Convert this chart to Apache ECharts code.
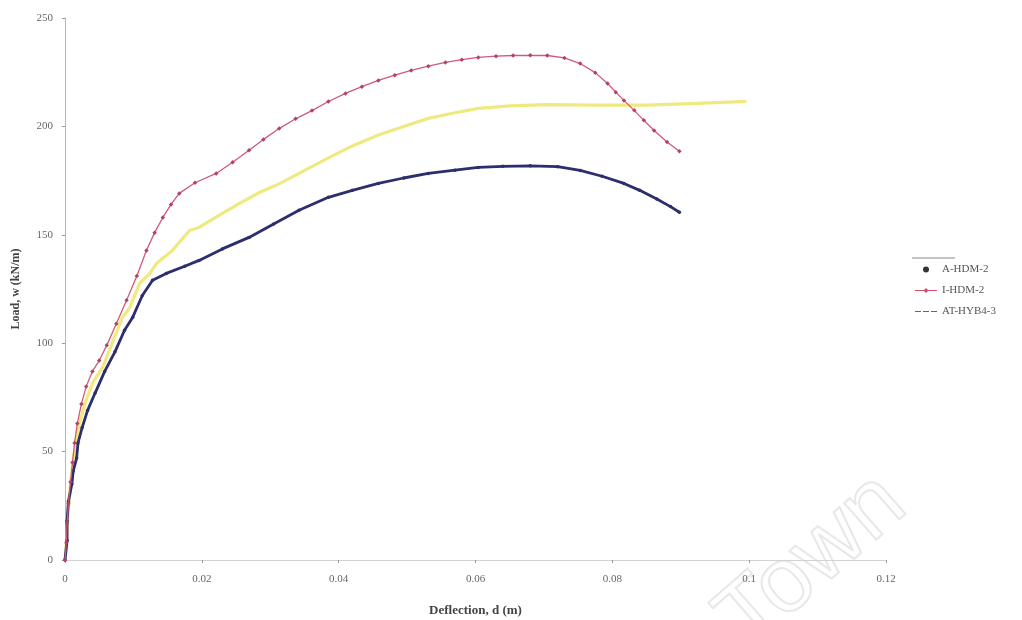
<!DOCTYPE html>
<html>
<head>
<meta charset="utf-8">
<script src="https://cdn.jsdelivr.net/npm/echarts@6/dist/echarts.min.js"></script>
<style>
  html, body { margin: 0; padding: 0; background: #fff; }
  #chart { width: 1022px; height: 620px; }
</style>
</head>
<body>
<div id="chart"></div>
<script>
// Load–deflection curves for three slab specimens
const seriesNames = ['A-HDM-2', 'I-HDM-2', 'AT-HYB4-3'];
const xTicks = [0, 0.02, 0.04, 0.06, 0.08, 0.1, 0.12];
const yTicks = [0, 50, 100, 150, 200, 250];

// A-HDM-2: [deflection (m), load (kN/m)]
const aHdm2 = [
  [0, 0], [0.0003, 9], [0.0003, 18], [0.0005, 27], [0.0010, 35], [0.0012, 41],
  [0.0017, 47], [0.0019, 54], [0.0025, 61], [0.0033, 69], [0.0044, 77],
  [0.0058, 87], [0.0073, 96], [0.0087, 106], [0.0099, 112], [0.0113, 122],
  [0.0128, 129], [0.0148, 132.2], [0.0175, 135.5], [0.0196, 138.2],
  [0.0230, 143.5], [0.0269, 148.8], [0.0305, 155], [0.0342, 161.3],
  [0.0385, 167.3], [0.0420, 170.5], [0.0458, 173.7], [0.0495, 176.2],
  [0.0531, 178.3], [0.0570, 179.8], [0.0604, 181.1], [0.0640, 181.6],
  [0.0680, 181.8], [0.0720, 181.4], [0.0753, 179.7], [0.0785, 177.0],
  [0.0817, 173.7], [0.0840, 170.5], [0.0865, 166.5], [0.0885, 163],
  [0.0898, 160.4]
];

// I-HDM-2
const iHdm2 = [
  [0, 0], [0.0002, 8], [0.0003, 17], [0.0005, 26], [0.0008, 36], [0.0011, 45],
  [0.0014, 54], [0.0018, 63], [0.0024, 72], [0.0031, 80], [0.0040, 87],
  [0.0050, 92], [0.0061, 99], [0.0075, 109], [0.0090, 119.8], [0.0105, 131],
  [0.0119, 142.8], [0.0131, 151], [0.0143, 158], [0.0155, 164], [0.0167, 169.1],
  [0.0190, 174], [0.0221, 178.3], [0.0245, 183.5], [0.0269, 189], [0.0290, 194],
  [0.0313, 199], [0.0337, 203.5], [0.0361, 207.3], [0.0385, 211.5],
  [0.0410, 215.2], [0.0434, 218.3], [0.0458, 221.2], [0.0482, 223.6],
  [0.0506, 225.8], [0.0531, 227.8], [0.0556, 229.5], [0.0580, 230.8],
  [0.0604, 231.8], [0.0630, 232.4], [0.0655, 232.7], [0.0680, 232.8],
  [0.0705, 232.7], [0.0730, 231.6], [0.0753, 229.0], [0.0775, 224.8],
  [0.0793, 219.8], [0.0805, 215.8], [0.0817, 212.0], [0.0832, 207.4],
  [0.0846, 202.8], [0.0861, 198.1], [0.0880, 192.8], [0.0898, 188.5]
];

// AT-HYB4-3
const atHyb43 = [
  [0, 0], [0.0003, 12], [0.0005, 24], [0.0008, 35], [0.0012, 46], [0.0016, 55],
  [0.0022, 64], [0.0030, 73], [0.0041, 82], [0.0055, 88.9], [0.0065, 96.8],
  [0.0084, 112], [0.0095, 116.6], [0.0109, 127.6], [0.0124, 132.2],
  [0.0134, 136.9], [0.0157, 142.8], [0.0182, 152], [0.0196, 153.4],
  [0.0225, 159], [0.0255, 164.5], [0.0284, 169.5], [0.0313, 173.5],
  [0.0342, 178.3], [0.0385, 185.5], [0.0420, 191], [0.0458, 196],
  [0.0495, 200], [0.0531, 203.7], [0.0570, 206.3], [0.0604, 208.3],
  [0.0650, 209.5], [0.0705, 210], [0.0778, 209.8], [0.0851, 209.8],
  [0.0924, 210.6], [0.0996, 211.5]
];

const serif = 'Liberation Serif';
const chart = echarts.init(document.getElementById('chart'), null, { renderer: 'canvas' });

chart.setOption({
  backgroundColor: '#ffffff',
  animation: false,
  grid: { left: 65, right: 136, top: 18, bottom: 60, containLabel: false, outerBoundsMode: 'none' },
  xAxis: {
    type: 'value',
    min: xTicks[0], max: xTicks[xTicks.length - 1], interval: 0.02,
    name: 'Deflection, d (m)',
    nameLocation: 'middle', nameGap: 44,
    nameTextStyle: { fontFamily: serif, fontSize: 13, fontWeight: 'bold', color: '#444' },
    axisLine: { onZero: false, lineStyle: { color: '#d2d2d2', width: 1 } },
    axisTick: { show: true, inside: false, length: 3, lineStyle: { color: '#999' } },
    axisLabel: { fontFamily: serif, fontSize: 11, color: '#666', margin: 14 },
    splitLine: { show: false }
  },
  yAxis: {
    type: 'value',
    min: yTicks[0], max: yTicks[yTicks.length - 1], interval: 50,
    name: 'Load, w (kN/m)',
    nameLocation: 'middle', nameGap: 43,
    nameTextStyle: { fontFamily: serif, fontSize: 12, fontWeight: 'bold', color: '#444' },
    axisLine: { show: true, lineStyle: { color: '#b8b8b8', width: 1 } },
    axisTick: { show: true, inside: false, length: 3, lineStyle: { color: '#999' } },
    axisLabel: { fontFamily: serif, fontSize: 11, color: '#666', margin: 12 },
    splitLine: { show: false }
  },
  legend: {
    orient: 'vertical',
    left: 910, top: 259,
    itemWidth: 22, itemHeight: 6, itemGap: 10,
    symbolKeepAspect: true,
    textStyle: { fontFamily: serif, fontSize: 11, color: '#555' },
    data: [
      { name: seriesNames[0], icon: 'path://M0,3a3,3 0 1,0 6,0a3,3 0 1,0 -6,0Z',
        itemStyle: { color: '#333' } },
      { name: seriesNames[1], icon: 'path://M0,2.4h22v1.2h-22Z M11,0.5L13.5,3L11,5.5L8.5,3Z',
        itemStyle: { color: '#c8506e' } },
      { name: seriesNames[2], icon: 'path://M0,2.4h6v1.2h-6Z M8,2.4h6v1.2h-6Z M16,2.4h6v1.2h-6Z M0,0h0.01v6h-0.01Z',
        itemStyle: { color: '#666' } }
    ]
  },
  graphic: [
    {
      type: 'text', left: 700, top: 455, rotation: 0.72, z: 0, silent: true,
      style: { text: 'Town', font: '92px "Liberation Sans"', fill: 'rgba(0,0,0,0)',
               stroke: '#e8e8e8', lineWidth: 2 }
    },
    {
      type: 'line', silent: true,
      shape: { x1: 912, y1: 258, x2: 955, y2: 258 },
      style: { stroke: '#888', lineWidth: 1 }
    }
  ],
  series: [
    {
      name: seriesNames[2], type: 'line', data: atHyb43,
      showSymbol: false, symbol: 'none', z: 2,
      lineStyle: { color: '#efea80', width: 3.2 },
      itemStyle: { color: '#efea80' }
    },
    {
      name: seriesNames[0], type: 'line', data: aHdm2,
      symbol: 'circle', symbolSize: 3.5, showSymbol: true, z: 3,
      lineStyle: { color: '#2c2e6e', width: 2.8 },
      itemStyle: { color: '#2c2e6e' }
    },
    {
      name: seriesNames[1], type: 'line', data: iHdm2,
      symbol: 'diamond', symbolSize: 4.5, showSymbol: true, z: 4,
      lineStyle: { color: '#d05a78', width: 1.3 },
      itemStyle: { color: '#b04462' }
    }
  ]
});
</script>
</body>
</html>
